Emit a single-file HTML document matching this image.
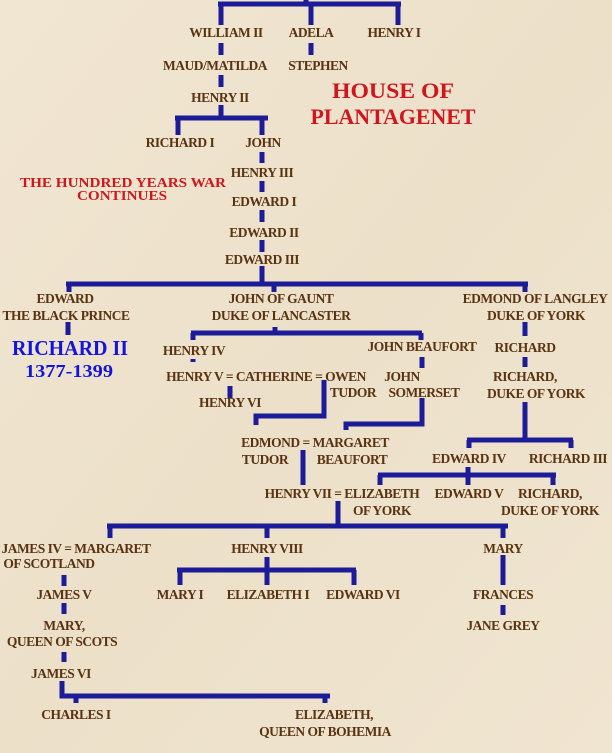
<!DOCTYPE html>
<html><head><meta charset="utf-8"><style>
html,body{margin:0;padding:0;background:#efe4cf;}
svg{display:block;}
.t{font-family:"Liberation Serif",serif;font-weight:bold;font-size:13.5px;fill:#5a3311;text-anchor:middle;letter-spacing:-0.5px;}
.r{font-family:"Liberation Serif",serif;font-weight:bold;fill:#d0161c;text-anchor:middle;}
.b{font-family:"Liberation Serif",serif;font-weight:bold;fill:#1414e0;text-anchor:middle;}
.l path{fill:none;stroke:#1c1c98;stroke-width:5;}
</style></head><body>
<svg width="612" height="753" viewBox="0 0 612 753" xmlns="http://www.w3.org/2000/svg">
<defs>
<linearGradient id="bg" x1="0" y1="0" x2="1" y2="1">
<stop offset="0" stop-color="#f1e6d2"/><stop offset="0.5" stop-color="#ece0c9"/><stop offset="1" stop-color="#f0e5d0"/>
</linearGradient>
</defs>
<rect width="612" height="753" fill="url(#bg)"/>
<g class="l">
<path d="M306 0V4 M218 4H401 M221 4V25 M311 4V25 M398 4V25"/>
<path d="M221 43V55 M311 43V55 M221 75V87 M221 105V118 M175 118H268 M178 118V135 M262 118V135"/>
<path d="M262 152V163 M262 181V192 M262 210V222 M262 240V252 M262 266V284 M66 284H528 M69 284V292 M274 284V292 M525 284V292"/>
<path d="M68 322V335 M275 327V333 M191 333H422 M193 333V340 M421 333V340"/>
<path d="M525 322V336 M422 357V368 M525 357V367 M230 386V398 M193 359V362"/>
<path d="M324 380V416H256V425 M422 398V424H346V430"/>
<path d="M525 402V440 M467 440H573 M469 440V448 M571 440V448"/>
<path d="M303 450V485 M378 475H556 M380 475V485 M468 467V485 M553 475V485"/>
<path d="M338 501V526 M107 526H508 M110 526V538 M267 526V538 M503 526V538"/>
<path d="M267 557V570 M177 570H356 M180 570V585 M267 570V585 M354 570V585 M503 555V585"/>
<path d="M64 575V586 M64 603V614 M64 652V662 M62 681V696H330 M76 696V703 M325 696V703 M503 605V615"/>
</g>
<g class="t">
<text x="226" y="37">WILLIAM II</text><text x="311" y="37">ADELA</text><text x="394" y="37">HENRY I</text>
<text x="215" y="70">MAUD/MATILDA</text><text x="318" y="70">STEPHEN</text>
<text x="220" y="102">HENRY II</text>
<text x="180" y="147">RICHARD I</text><text x="263" y="147">JOHN</text>
<text x="262" y="177">HENRY III</text><text x="264" y="206">EDWARD I</text><text x="264" y="237">EDWARD II</text><text x="262" y="264">EDWARD III</text>
<text x="65" y="303">EDWARD</text><text x="66" y="320">THE BLACK PRINCE</text>
<text x="281" y="303">JOHN OF GAUNT</text><text x="281" y="320">DUKE OF LANCASTER</text>
<text x="535" y="303">EDMOND OF LANGLEY</text><text x="536" y="320">DUKE OF YORK</text>
<text x="194" y="355">HENRY IV</text><text x="422" y="351">JOHN BEAUFORT</text><text x="525" y="352">RICHARD</text>
<text x="266" y="381">HENRY V = CATHERINE = OWEN</text><text x="402" y="381">JOHN</text><text x="525" y="381">RICHARD,</text>
<text x="353" y="397">TUDOR</text><text x="424" y="397">SOMERSET</text><text x="536" y="398">DUKE OF YORK</text>
<text x="230" y="407">HENRY VI</text>
<text x="315" y="447">EDMOND = MARGARET</text><text x="265" y="464">TUDOR</text><text x="352" y="464">BEAUFORT</text>
<text x="469" y="463">EDWARD IV</text><text x="568" y="463">RICHARD III</text>
<text x="342" y="498">HENRY VII = ELIZABETH</text><text x="382" y="515">OF YORK</text>
<text x="469" y="498">EDWARD V</text><text x="550" y="498">RICHARD,</text><text x="550" y="515">DUKE OF YORK</text>
<text x="76" y="553">JAMES IV = MARGARET</text><text x="49" y="568">OF SCOTLAND</text>
<text x="267" y="553">HENRY VIII</text><text x="503" y="553">MARY</text>
<text x="180" y="599">MARY I</text><text x="268" y="599">ELIZABETH I</text><text x="363" y="599">EDWARD VI</text><text x="503" y="599">FRANCES</text>
<text x="64" y="599">JAMES V</text>
<text x="64" y="630">MARY,</text><text x="62" y="646">QUEEN OF SCOTS</text>
<text x="61" y="678">JAMES VI</text><text x="503" y="630">JANE GREY</text>
<text x="76" y="719">CHARLES I</text><text x="334" y="719">ELIZABETH,</text><text x="325" y="736">QUEEN OF BOHEMIA</text>
</g>
<text class="r" x="393" y="98" font-size="22" textLength="122" lengthAdjust="spacingAndGlyphs">HOUSE OF</text>
<text class="r" x="393" y="124" font-size="22" textLength="165" lengthAdjust="spacingAndGlyphs">PLANTAGENET</text>
<text class="r" x="123" y="187" font-size="14" textLength="206" lengthAdjust="spacingAndGlyphs">THE HUNDRED YEARS WAR</text>
<text class="r" x="122" y="200" font-size="14" textLength="90" lengthAdjust="spacingAndGlyphs">CONTINUES</text>
<text class="b" x="70" y="355" font-size="21" textLength="116" lengthAdjust="spacingAndGlyphs">RICHARD II</text>
<text class="b" x="69" y="377" font-size="18" textLength="88" lengthAdjust="spacingAndGlyphs">1377-1399</text>
</svg>
</body></html>
